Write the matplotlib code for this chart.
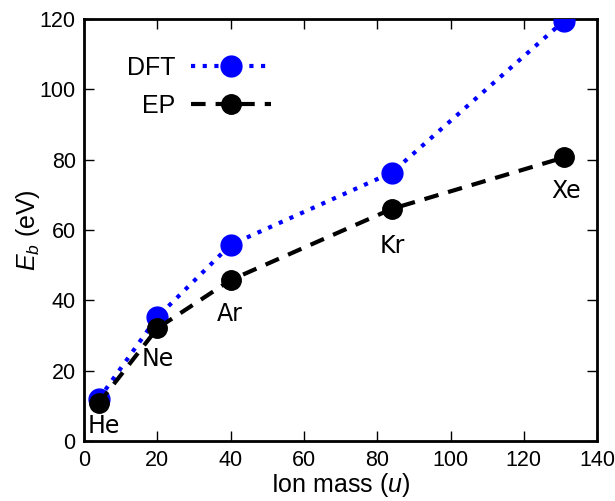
import matplotlib
matplotlib.use("Agg")
import matplotlib.pyplot as plt

elements = ["He", "Ne", "Ar", "Kr", "Xe"]
mass = [4, 20, 40, 84, 131]
dft = [12.0, 35.3, 55.8, 76.3, 119.4]
ep = [10.8, 32.1, 45.8, 66.0, 80.6]
label_x = [5.5, 20.2, 39.8, 84.0, 131.5]
label_y = [4.4, 23.4, 36.2, 55.5, 71.0]

plt.rcParams['font.family'] = ['Liberation Sans', 'DejaVu Sans']
plt.rcParams['mathtext.fontset'] = 'custom'
plt.rcParams['mathtext.it'] = 'Liberation Sans:italic'
plt.rcParams['mathtext.rm'] = 'Liberation Sans'

fig = plt.figure(figsize=(6.15, 5.01), dpi=100)
ax = fig.add_axes([0.1366, 0.1188, 0.8344, 0.8442])

ax.plot(mass, dft, color='#0000ff', linestyle=(0, (1, 1.8)), lw=3,
        marker='o', ms=15, markeredgecolor='#0000ff', label='DFT', zorder=3)
ax.plot(mass, ep, color='black', linestyle=(0, (3.5, 2.4)), lw=3,
        marker='o', ms=14, markeredgecolor='black', label='EP', zorder=4)

for name, lx, ly in zip(elements, label_x, label_y):
    ax.text(lx, ly, name, ha='center', va='center', fontsize=17,
            family='DejaVu Sans', zorder=5)

ax.set_xlim(0, 140)
ax.set_ylim(0, 120)
ax.set_xticks(range(0, 141, 20))
ax.set_yticks(range(0, 121, 20))
ax.tick_params(direction='in', top=True, right=True, length=7, width=1,
               labelsize=15.5, pad=6)
for s in ax.spines.values():
    s.set_linewidth(2)

ax.set_xlabel('Ion mass ($u$)', fontsize=18, labelpad=0)
ax.set_ylabel('$E_b$ (eV)', fontsize=18, labelpad=-2)

leg = ax.legend(loc='upper left', frameon=False, markerfirst=False,
                fontsize=18, handlelength=3.2, handletextpad=0.6,
                bbox_to_anchor=(0.04, 0.965), labelspacing=0.55)

fig.savefig('out.png', dpi=100)
